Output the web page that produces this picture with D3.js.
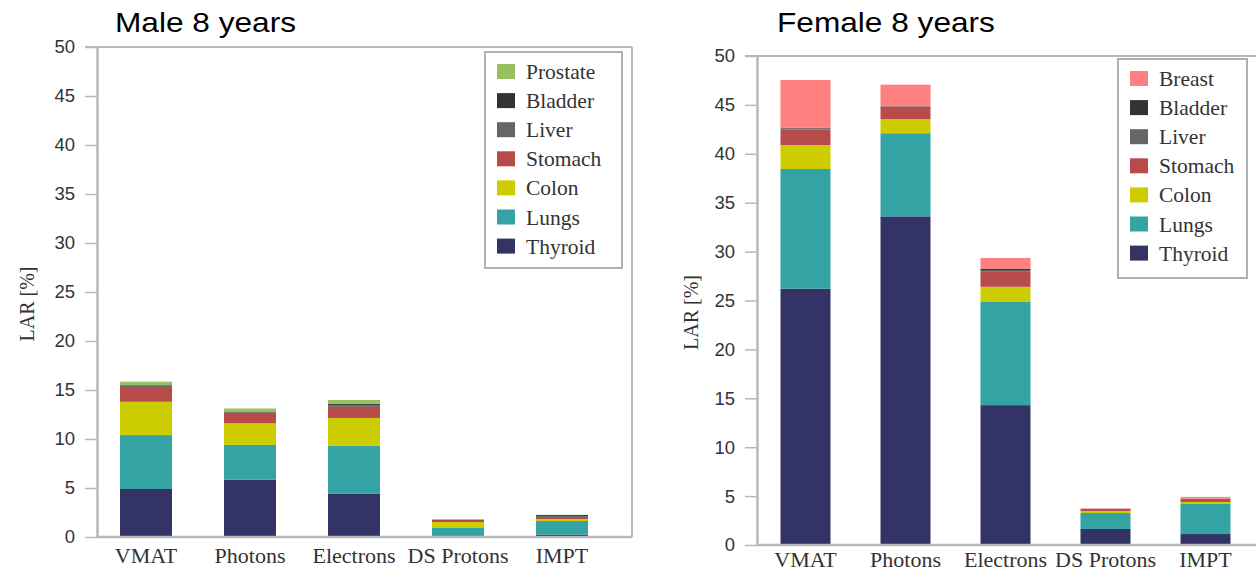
<!DOCTYPE html>
<html>
<head>
<meta charset="utf-8">
<script src="https://cdn.jsdelivr.net/npm/d3@7"></script>
<style>
  html, body { margin: 0; padding: 0; background: #fff; }
  svg { display: block; }
</style>
</head>
<body>
<svg id="chart" width="1256" height="571"></svg>
<script>
// Treatment techniques on the x axis
const categories = ["VMAT", "Photons", "Electrons", "DS Protons", "IMPT"];
const yTicks = [0, 5, 10, 15, 20, 25, 30, 35, 40, 45, 50];

// Male, 8 years: LAR [%] per organ (stacked bottom to top)
const maleThyroid  = [4.9, 5.85, 4.4, 0.05, 0.25];
const maleLungs    = [5.5, 3.55, 4.9, 0.87, 1.38];
const maleColon    = [3.4, 2.2, 2.85, 0.61, 0.21];
const maleStomach  = [1.5, 1.05, 1.13, 0.21, 0.2];
const maleLiver    = [0.15, 0.05, 0.2, 0.02, 0.05];
const maleBladder  = [0.05, 0.05, 0.1, 0.02, 0.15];
const maleProstate = [0.35, 0.36, 0.4, 0.02, 0.02];

// Female, 8 years: LAR [%] per organ (stacked bottom to top)
const femaleThyroid = [26.2, 33.6, 14.3, 1.64, 1.12];
const femaleLungs   = [12.25, 8.5, 10.55, 1.63, 3.07];
const femaleColon   = [2.45, 1.45, 1.55, 0.21, 0.21];
const femaleStomach = [1.6, 1.25, 1.6, 0.2, 0.3];
const femaleLiver   = [0.1, 0.05, 0.05, 0.01, 0.02];
const femaleBladder = [0.05, 0.02, 0.2, 0.01, 0.02];
const femaleBreast  = [4.9, 2.2, 1.1, 0.04, 0.18];

const organColors = {
  Thyroid: "#333366",
  Lungs: "#33a3a3",
  Colon: "#cccc00",
  Stomach: "#b84a4a",
  Liver: "#666666",
  Bladder: "#333333",
  Prostate: "#99c060",
  Breast: "#ff8080"
};

const svg = d3.select("#chart");
const axisColor = "#b8b8b8";
const serif = "'Liberation Serif', 'Times New Roman', serif";
const sans = "'Liberation Sans', Arial, sans-serif";

function drawPanel(cfg) {
  const g = svg.append("g");
  const keys = cfg.series.map(s => s.name);
  const rows = categories.map((c, i) => {
    const r = { category: c };
    cfg.series.forEach(s => { r[s.name] = s.values[i]; });
    return r;
  });
  const stacked = d3.stack().keys(keys)(rows);

  const x = d3.scaleBand().domain(categories).range(cfg.bandRange)
    .paddingInner(0.5).paddingOuter(0.25);
  const y = d3.scaleLinear().domain([0, 50]).range([cfg.bottom, cfg.top]);

  // bars
  g.append("g").selectAll("g").data(stacked).join("g")
    .attr("fill", d => organColors[d.key])
    .selectAll("rect").data(d => d).join("rect")
    .attr("x", d => x(d.data.category))
    .attr("width", x.bandwidth())
    .attr("y", d => y(d[1]))
    .attr("height", d => Math.max(0, y(d[0]) - y(d[1])));

  // frame lines
  g.append("line").attr("x1", cfg.axisX - 12).attr("x2", cfg.frameRight)
    .attr("y1", cfg.top).attr("y2", cfg.top)
    .attr("stroke", axisColor).attr("stroke-width", 2);
  if (cfg.drawRight) {
    g.append("line").attr("x1", cfg.frameRight).attr("x2", cfg.frameRight)
      .attr("y1", cfg.top).attr("y2", cfg.bottom)
      .attr("stroke", axisColor).attr("stroke-width", 2);
  }
  g.append("line").attr("x1", cfg.axisX).attr("x2", cfg.frameRight)
    .attr("y1", cfg.bottom).attr("y2", cfg.bottom)
    .attr("stroke", axisColor).attr("stroke-width", 2.5);

  // y axis
  const yAxis = d3.axisLeft(y).tickValues(yTicks).tickSize(12).tickPadding(10).tickSizeOuter(0);
  const ya = g.append("g").attr("transform", `translate(${cfg.axisX},0)`).call(yAxis);
  ya.select(".domain").attr("stroke", axisColor).attr("stroke-width", 2.5);
  ya.selectAll(".tick line").attr("stroke", axisColor).attr("stroke-width", 1.5);
  ya.selectAll(".tick text").attr("fill", "#333").style("font-family", sans).style("font-size", "18.5px");

  // x axis labels
  const xAxis = d3.axisBottom(x).tickSize(0).tickPadding(cfg.labelPad);
  const xa = g.append("g").attr("transform", `translate(0,${cfg.bottom})`).call(xAxis);
  xa.select(".domain").remove();
  xa.selectAll(".tick text").attr("fill", "#333").style("font-family", serif).style("font-size", "22px");

  // y axis title
  g.append("text")
    .attr("transform", `translate(${cfg.yTitleX},${(cfg.top + cfg.bottom) / 2 + 12}) rotate(-90)`)
    .attr("text-anchor", "middle")
    .attr("fill", "#333")
    .style("font-family", serif).style("font-size", "20px")
    .text("LAR [%]");

  // panel title (slightly wide sans lettering)
  g.append("text")
    .attr("transform", `translate(${cfg.titleX},32) scale(1.13,1)`)
    .attr("fill", "#000")
    .style("font-family", sans).style("font-size", "28px")
    .text(cfg.title);

  // legend (top item is the last series)
  const lg = g.append("g");
  lg.append("rect").attr("x", cfg.legend.x).attr("y", cfg.legend.y)
    .attr("width", cfg.legend.w).attr("height", cfg.legend.h)
    .attr("fill", "#fff").attr("stroke", "#b0b0b0").attr("stroke-width", 2);
  const order = keys.slice().reverse();
  const items = lg.selectAll("g.item").data(order).join("g").attr("class", "item")
    .attr("transform", (d, i) => `translate(${cfg.legend.x + 12},${cfg.legend.y + 12 + i * 29.1})`);
  items.append("rect").attr("width", 18).attr("height", 15)
    .attr("fill", d => organColors[d]);
  items.append("text").attr("x", 29).attr("y", 15)
    .attr("fill", "#333")
    .style("font-family", serif).style("font-size", "21.5px")
    .text(d => d);
}

drawPanel({
  title: "Male 8 years", titleX: 115,
  axisX: 97, top: 47, bottom: 537, frameRight: 632, drawRight: true,
  bandRange: [94, 614], yTitleX: 34, labelPad: 10,
  legend: { x: 485, y: 52, w: 137, h: 216 },
  series: [
    { name: "Thyroid", values: maleThyroid },
    { name: "Lungs", values: maleLungs },
    { name: "Colon", values: maleColon },
    { name: "Stomach", values: maleStomach },
    { name: "Liver", values: maleLiver },
    { name: "Bladder", values: maleBladder },
    { name: "Prostate", values: maleProstate }
  ]
});

drawPanel({
  title: "Female 8 years", titleX: 777,
  axisX: 757, top: 56, bottom: 545, frameRight: 1260, drawRight: false,
  bandRange: [755.5, 1255.5], yTitleX: 698, labelPad: 6,
  legend: { x: 1118, y: 59, w: 129, h: 219 },
  series: [
    { name: "Thyroid", values: femaleThyroid },
    { name: "Lungs", values: femaleLungs },
    { name: "Colon", values: femaleColon },
    { name: "Stomach", values: femaleStomach },
    { name: "Liver", values: femaleLiver },
    { name: "Bladder", values: femaleBladder },
    { name: "Breast", values: femaleBreast }
  ]
});
</script>
</body>
</html>
